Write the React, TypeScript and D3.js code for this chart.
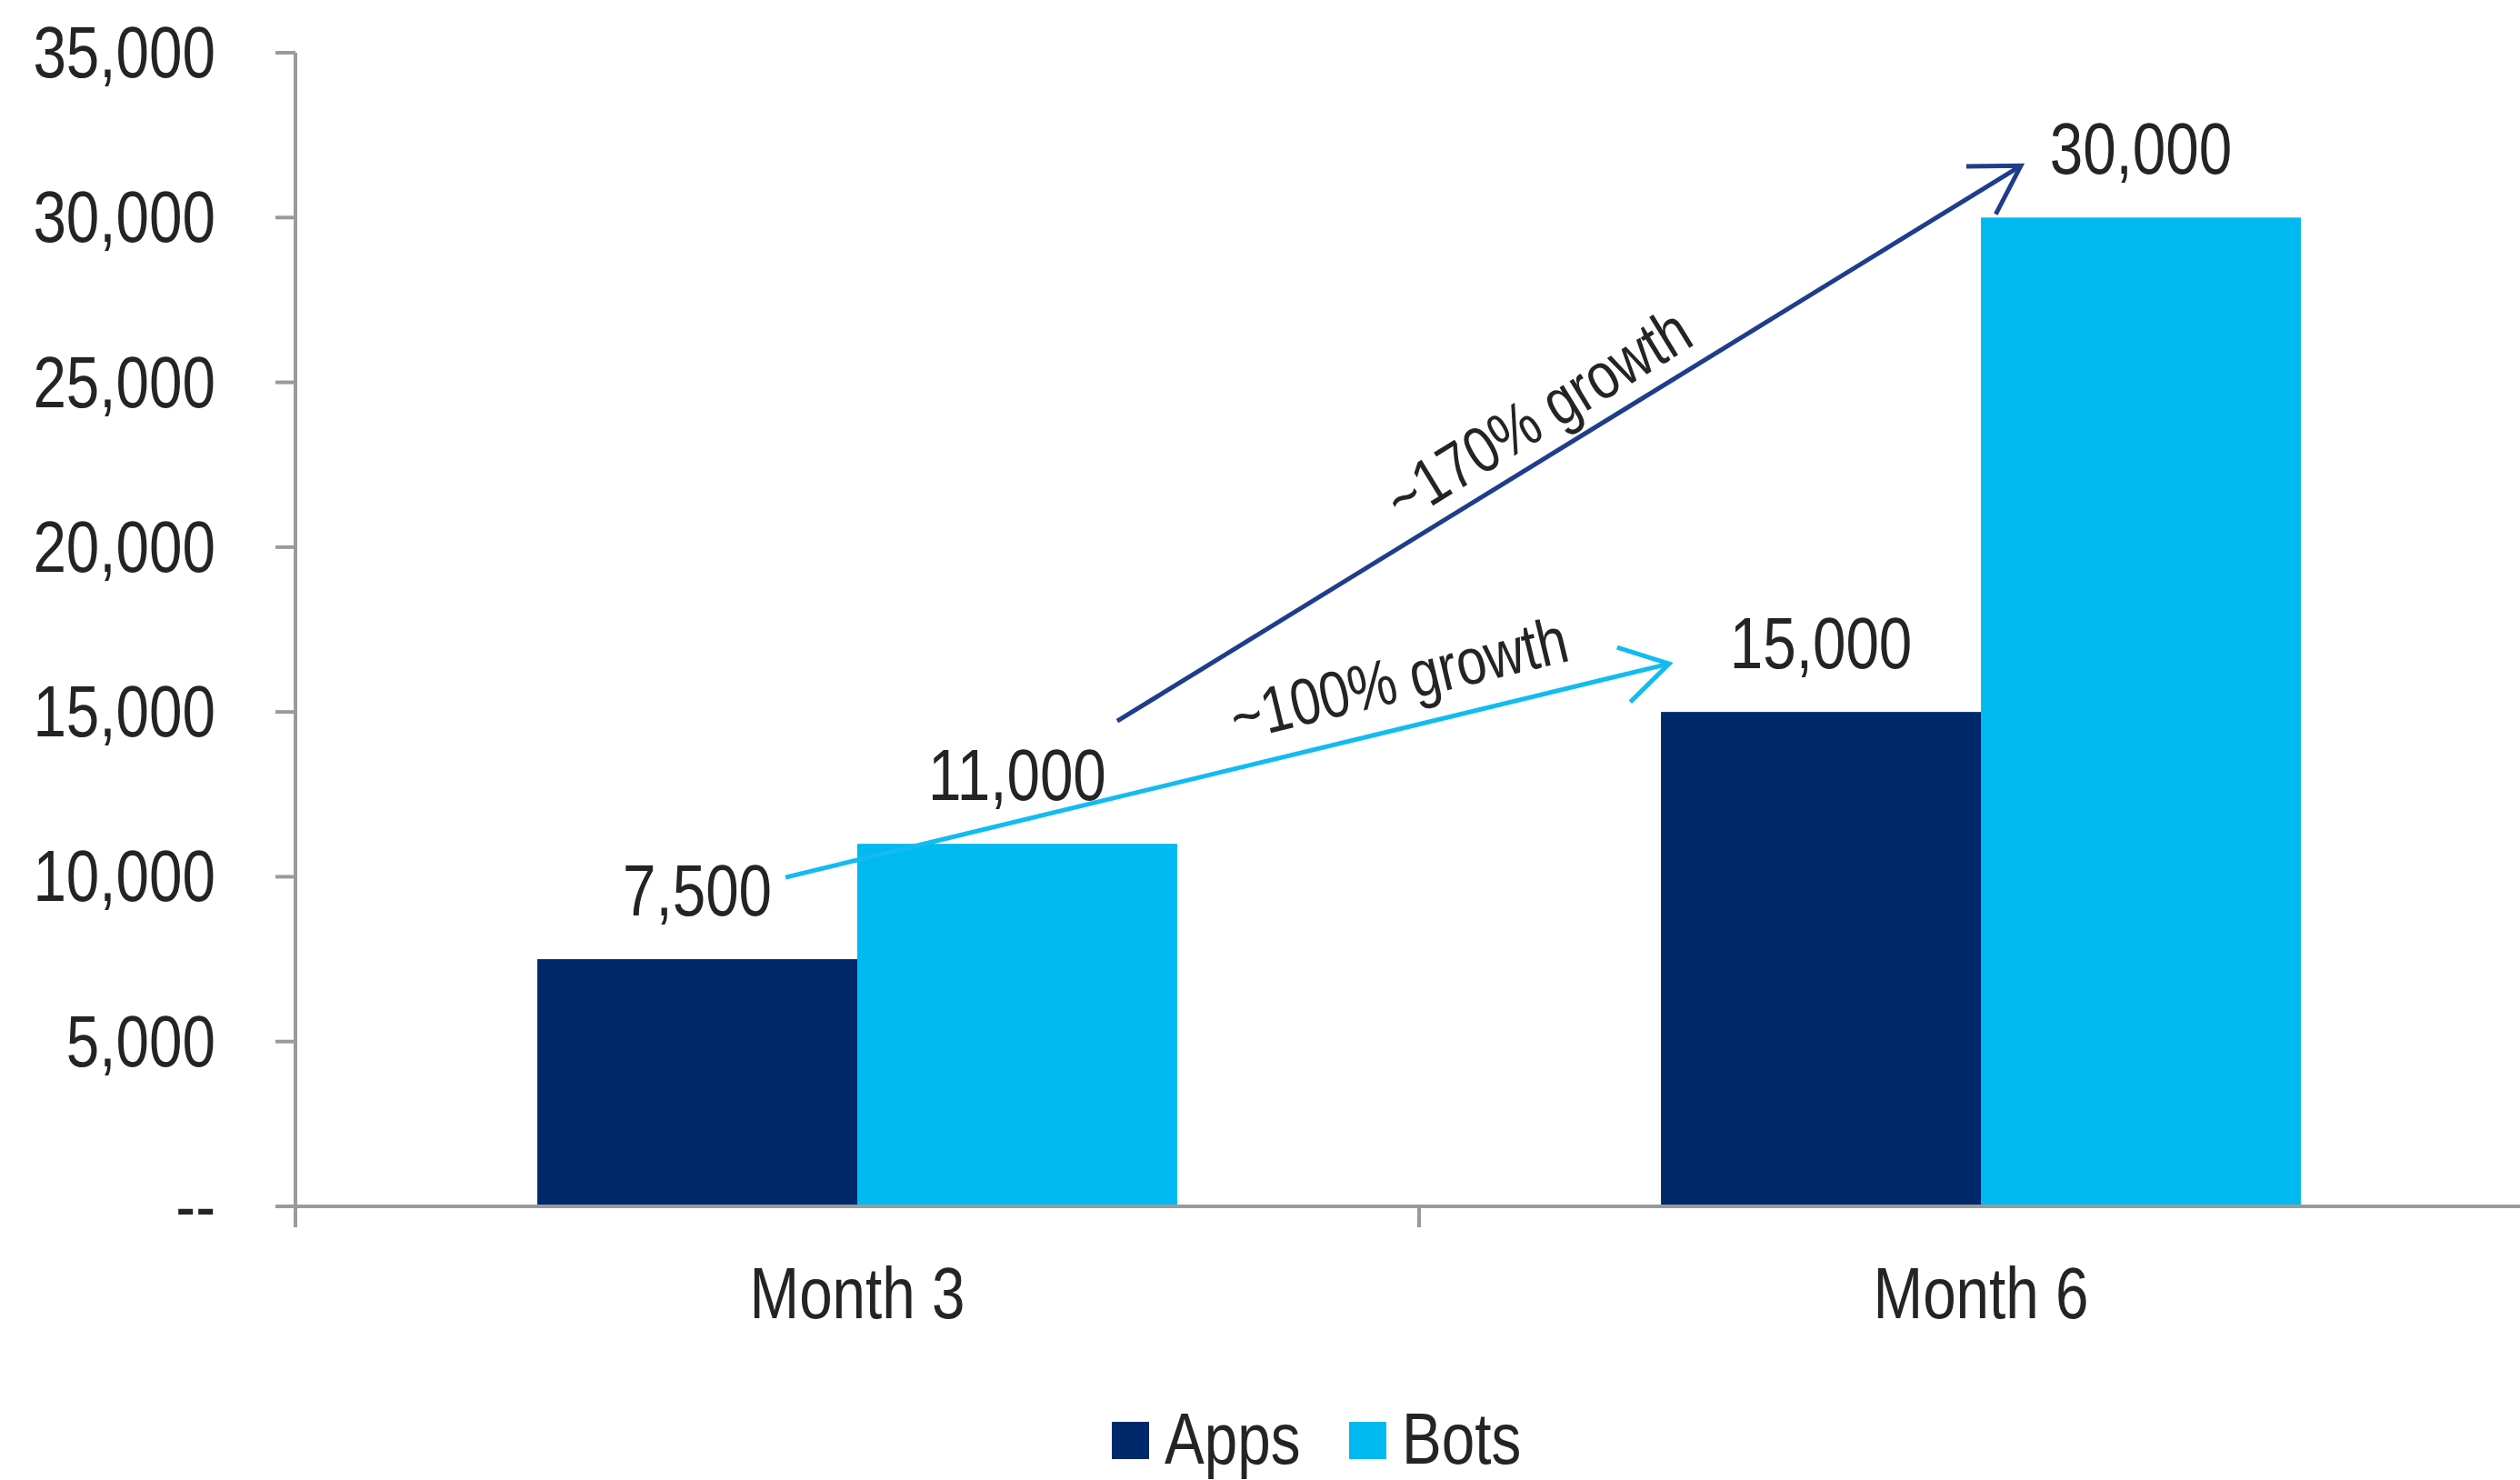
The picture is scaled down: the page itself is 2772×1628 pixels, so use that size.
import React from 'react';
import * as d3 from 'd3';

const categories = ['Month 3', 'Month 6'];
const seriesNames = ['Apps', 'Bots'];
const appsValues = [7500, 15000];
const botsValues = [11000, 30000];
const seriesColors = ['#00296C', '#00B9F1'];
const yTicks = [0, 5000, 10000, 15000, 20000, 25000, 30000, 35000];
const yTickLabels = ['--', '5,000', '10,000', '15,000', '20,000', '25,000', '30,000', '35,000'];
const growthLabels = ['~100% growth', '~170% growth'];
const arrowColors = ['#12BBF0', '#1E3D8C'];

const W = 2772;
const H = 1628;
const FONT = "'Liberation Sans', Arial, sans-serif";
const TEXT = '#242424';
const AXIS = '#9a9a9a';
const SX = 0.82;

function Txt(props: { x: number; y: number; anchor?: string; size?: number; rotate?: number; children: React.ReactNode }) {
  const { x, y, anchor = 'start', size = 80, rotate = 0, children } = props;
  return (
    <text
      transform={`translate(${x},${y}) rotate(${rotate}) scale(${SX},1)`}
      textAnchor={anchor as any}
      fontFamily={FONT}
      fontSize={size}
      fill={TEXT}
    >
      {children}
    </text>
  );
}

export default function App() {
  const left = 325;
  const right = 2797;
  const top = 58;
  const bottom = 1327;

  const x0 = d3.scaleBand<string>().domain(categories).range([left, right]).paddingInner(0).paddingOuter(0);
  const x1 = d3.scaleBand<string>().domain(seriesNames).range([0, x0.bandwidth()]).paddingInner(0).paddingOuter(0.756);
  const y = d3.scaleLinear().domain([0, 35000]).range([bottom, top]);
  const fmt = d3.format(',');
  const values = [appsValues, botsValues];

  const barCx = (ci: number, si: number) => (x0(categories[ci]) as number) + (x1(seriesNames[si]) as number) + x1.bandwidth() / 2;

  // arrows connect the value labels of each series from Month 3 to Month 6
  const arrows = [
    { start: [barCx(0, 0) + 97, y(appsValues[0]) - 90], end: [barCx(1, 0) - 167, y(appsValues[1]) - 53], t: 0.707, off: 29, w: 5 },
    { start: [barCx(0, 1) + 110, y(botsValues[0]) - 135], end: [barCx(1, 1) - 132, y(botsValues[1]) - 57], t: 0.489, off: 20, w: 5 },
  ];

  const legendX = [1223, 1484];

  return (
    <svg width={W} height={H} style={{ position: 'absolute', left: 0, top: 0, display: 'block', background: '#fff' }}>
      {/* bars */}
      {categories.map((c, ci) =>
        seriesNames.map((s, si) => (
          <rect
            key={c + s}
            x={(x0(c) as number) + (x1(s) as number)}
            y={y(values[si][ci])}
            width={x1.bandwidth()}
            height={bottom - y(values[si][ci])}
            fill={seriesColors[si]}
          />
        ))
      )}
      {/* axes */}
      <line x1={left} x2={left} y1={top} y2={bottom + 23} stroke={AXIS} strokeWidth={4} />
      <line x1={left - 22} x2={W} y1={bottom} y2={bottom} stroke={AXIS} strokeWidth={4} />
      {yTicks.map((t, i) => (
        <g key={t}>
          <line x1={left - 22} x2={left} y1={y(t)} y2={y(t)} stroke={AXIS} strokeWidth={4} />
          <Txt x={237} y={y(t) + 27} anchor="end">
            {yTickLabels[i]}
          </Txt>
        </g>
      ))}
      {[...categories.map((c) => x0(c) as number), right].map((xv, i) => (
        <line key={i} x1={xv} x2={xv} y1={bottom} y2={bottom + 23} stroke={AXIS} strokeWidth={4} />
      ))}
      {categories.map((c) => (
        <Txt key={c} x={(x0(c) as number) + x0.bandwidth() / 2} y={1450} anchor="middle">
          {c}
        </Txt>
      ))}
      {/* value labels */}
      {categories.map((c, ci) =>
        seriesNames.map((s, si) => (
          <Txt key={'v' + c + s} x={barCx(ci, si)} y={y(values[si][ci]) - 48} anchor="middle">
            {fmt(values[si][ci])}
          </Txt>
        ))
      )}
      {/* growth arrows */}
      {arrows.map((a, i) => {
        const [sx, sy] = a.start;
        const [ex, ey] = a.end;
        const ang = Math.atan2(ey - sy, ex - sx);
        const back = ang + Math.PI;
        const L = 60;
        const spread = (31 * Math.PI) / 180;
        const a1 = [ex + L * Math.cos(back - spread), ey + L * Math.sin(back - spread)];
        const a2 = [ex + L * Math.cos(back + spread), ey + L * Math.sin(back + spread)];
        const px = sx + (ex - sx) * a.t;
        const py = sy + (ey - sy) * a.t;
        const deg = (ang * 180) / Math.PI;
        const nx = Math.sin(ang) * a.off;
        const ny = -Math.cos(ang) * a.off;
        return (
          <g key={i}>
            <line x1={sx} y1={sy} x2={ex} y2={ey} stroke={arrowColors[i]} strokeWidth={a.w} />
            <path d={`M${a1[0]},${a1[1]}L${ex},${ey}L${a2[0]},${a2[1]}`} fill="none" stroke={arrowColors[i]} strokeWidth={a.w} strokeLinejoin="miter" />
            <Txt x={px + nx} y={py + ny} rotate={deg} anchor="middle" size={72}>
              {growthLabels[i]}
            </Txt>
          </g>
        );
      })}
      {/* legend */}
      {seriesNames.map((s, si) => (
        <g key={'lg' + s}>
          <rect x={legendX[si]} y={1564} width={41} height={41} fill={seriesColors[si]} />
          <Txt x={legendX[si] + 58} y={1610}>
            {s}
          </Txt>
        </g>
      ))}
    </svg>
  );
}
